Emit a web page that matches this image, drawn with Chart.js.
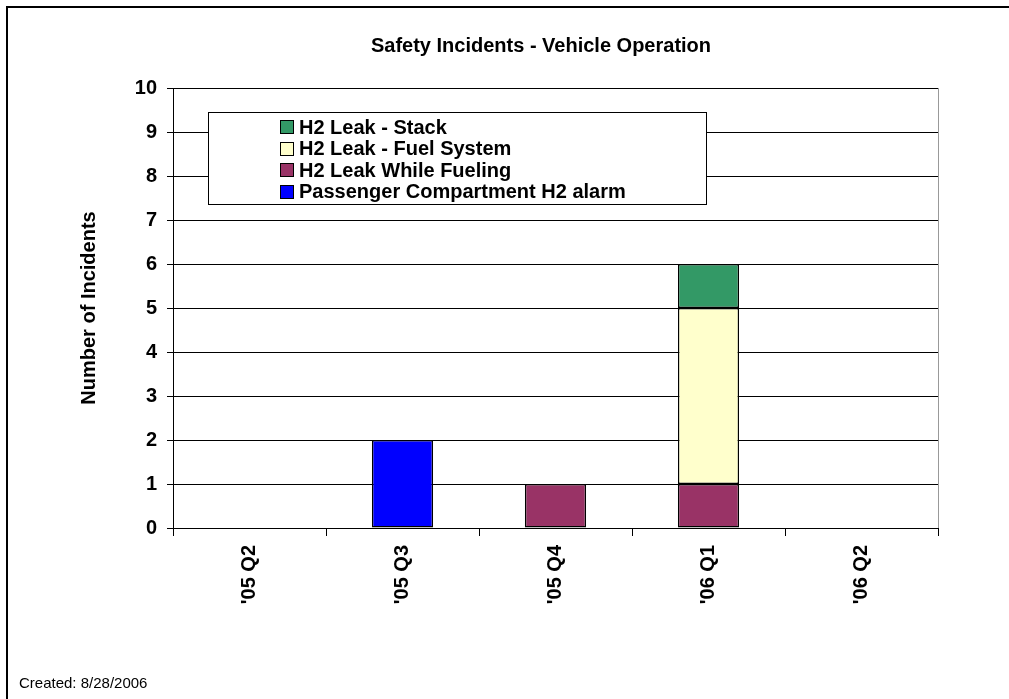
<!DOCTYPE html>
<html>
<head>
<meta charset="utf-8">
<script src="https://cdn.jsdelivr.net/npm/chart.js@4.4.0/dist/chart.umd.min.js"></script>
<style>
html,body{margin:0;padding:0;background:#fff;}
#wrap{width:1009px;height:699px;}
</style>
</head>
<body>
<div id="wrap"><canvas id="c" width="1009" height="699"></canvas></div>
<script>
const categories = ["'05 Q2", "'05 Q3", "'05 Q4", "'06 Q1", "'06 Q2"];
const passengerAlarm = [0, 2, 0, 0, 0];
const leakWhileFueling = [0, 0, 1, 1, 0];
const leakFuelSystem = [0, 0, 0, 4, 0];
const leakStack = [0, 0, 0, 1, 0];
const yTicks = [0,1,2,3,4,5,6,7,8,9,10];

const FONT = "'Liberation Sans', Arial, sans-serif";

const decor = {
  id: 'decor',
  beforeDraw(chart) {
    const ctx = chart.ctx;
    ctx.save();
    ctx.fillStyle = '#fff';
    ctx.fillRect(0, 0, chart.width, chart.height);
    ctx.strokeStyle = '#000';
    ctx.lineWidth = 2;
    ctx.beginPath();
    ctx.moveTo(7, 699);
    ctx.lineTo(7, 7);
    ctx.lineTo(1009, 7);
    ctx.stroke();
    ctx.restore();
  },
  afterDraw(chart) {
    const ctx = chart.ctx;
    const a = chart.chartArea;
    ctx.save();
    ctx.strokeStyle = '#999';
    ctx.lineWidth = 1;
    ctx.beginPath();
    ctx.moveTo(Math.round(a.right) + 0.5, a.top);
    ctx.lineTo(Math.round(a.right) + 0.5, a.bottom);
    ctx.stroke();
    ctx.fillStyle = '#000';
    ctx.font = 'bold 20px ' + FONT;
    ctx.textAlign = 'center';
    ctx.textBaseline = 'middle';
    ctx.fillText('Safety Incidents - Vehicle Operation', 541, 46);
    ctx.font = '15px ' + FONT;
    ctx.textAlign = 'left';
    ctx.fillText('Created: 8/28/2006', 19, 684);
    const bx = 208, by = 112, bw = 498, bh = 92;
    ctx.fillStyle = '#fff';
    ctx.fillRect(bx, by, bw, bh);
    ctx.strokeStyle = '#000';
    ctx.lineWidth = 1;
    ctx.strokeRect(bx + 0.5, by + 0.5, bw, bh);
    const ds = chart.data.datasets.slice().reverse();
    ctx.font = 'bold 20px ' + FONT;
    ctx.textBaseline = 'middle';
    ds.forEach((d, i) => {
      const cy = 127 + i * 21.5;
      const sy = Math.round(cy - 7);
      ctx.fillStyle = d.backgroundColor;
      ctx.fillRect(280, sy, 14, 14);
      ctx.strokeStyle = '#000';
      ctx.strokeRect(280.5, sy + 0.5, 13, 13);
      ctx.fillStyle = '#000';
      ctx.fillText(d.label, 299, cy + 1);
    });
    ctx.restore();
  }
};

new Chart(document.getElementById('c'), {
  type: 'bar',
  data: {
    labels: categories,
    datasets: [
      { label: 'Passenger Compartment H2 alarm', data: passengerAlarm, backgroundColor: '#0000FF' },
      { label: 'H2 Leak While Fueling', data: leakWhileFueling, backgroundColor: '#993366' },
      { label: 'H2 Leak - Fuel System', data: leakFuelSystem, backgroundColor: '#FFFFCC' },
      { label: 'H2 Leak - Stack', data: leakStack, backgroundColor: '#339966' }
    ].map(d => Object.assign(d, { borderColor: '#000', borderWidth: 1.5, borderSkipped: false, inflateAmount: 0, categoryPercentage: 1.0, barPercentage: 0.4 }))
  },
  options: {
    responsive: false,
    animation: false,
    events: [],
    layout: { padding: { left: 77, top: 88, right: 71, bottom: 60 } },
    plugins: { legend: { display: false }, title: { display: false }, tooltip: { enabled: false } },
    scales: {
      x: {
        stacked: true,
        afterFit(s) { s.height = 111; },
        grid: { display: true, drawOnChartArea: false, drawTicks: true, tickLength: 8, color: '#000', offset: true },
        border: { display: true, color: '#000', width: 1 },
        ticks: { color: '#000', font: { family: FONT, size: 20, weight: 'bold' }, minRotation: 90, maxRotation: 90, padding: 9, autoSkip: false }
      },
      y: {
        stacked: true,
        min: 0, max: 10,
        afterFit(s) { s.width = 96; },
        afterBuildTicks(s) { s.ticks = yTicks.map(v => ({ value: v })); },
        grid: { color: '#000', lineWidth: 1, drawTicks: true, tickLength: 6 },
        border: { display: true, color: '#000', width: 1 },
        ticks: { color: '#000', font: { family: FONT, size: 20, weight: 'bold' }, padding: 10, stepSize: 1 },
        title: { display: true, text: 'Number of Incidents', color: '#000', font: { family: FONT, size: 20, weight: 'bold' }, padding: 0 }
      }
    }
  },
  plugins: [decor]
});
</script>
</body>
</html>
